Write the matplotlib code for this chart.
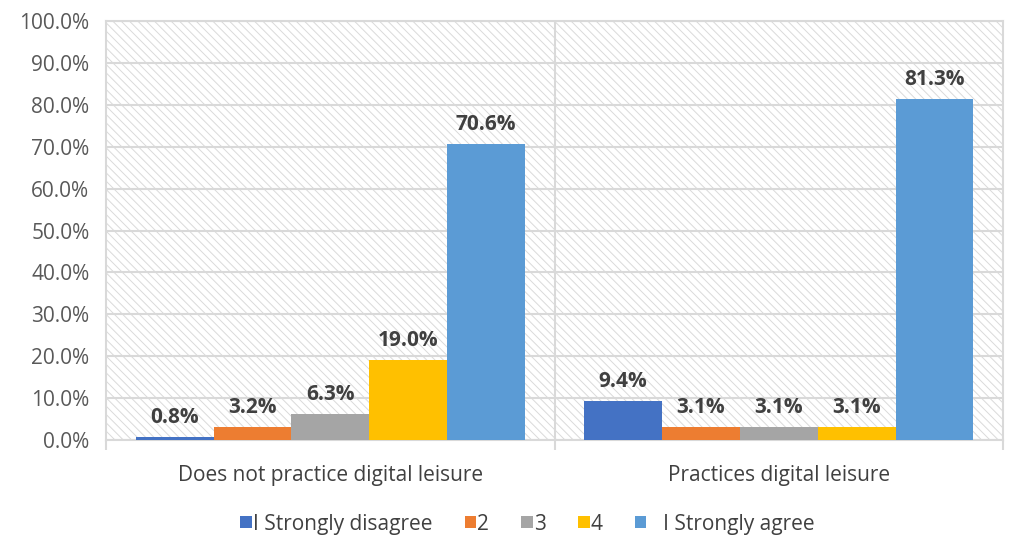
import matplotlib
matplotlib.use('Agg')
import matplotlib.pyplot as plt
import numpy as np
from matplotlib.patches import Rectangle
from matplotlib.ticker import FuncFormatter, MultipleLocator

plt.rcParams['font.family'] = ['Open Sans', 'DejaVu Sans']
plt.rcParams['hatch.linewidth'] = 0.7

# Data
categories = ['Does not practice digital leisure', 'Practices digital leisure']
series_names = ['I Strongly disagree', '2', '3', '4', '   I Strongly agree']
values = [
    [0.8, 9.4],    # I Strongly disagree
    [3.2, 3.1],    # 2
    [6.3, 3.1],    # 3
    [19.0, 3.1],   # 4
    [70.6, 81.3],  # I Strongly agree
]
colors = ['#4472C4', '#ED7D31', '#A5A5A5', '#FFC000', '#5B9BD5']

fig = plt.figure(figsize=(10.11, 5.38), dpi=100)
fig.patch.set_facecolor('white')
ax = fig.add_axes([0.105, 0.182, 0.887, 0.779])

# hatched plot area background
bg = Rectangle((0, 0), 1, 1, transform=ax.transAxes, facecolor='white',
               edgecolor='#dadada', linewidth=0, hatch='\\\\\\\\', zorder=0)
ax.add_patch(bg)
ax.patch.set_visible(False)

x = np.arange(len(categories))
w = 0.1737
n = len(series_names)
for i, (name, vals, c) in enumerate(zip(series_names, values, colors)):
    pos = x + (i - (n - 1) / 2) * w
    bars = ax.bar(pos, vals, width=w, color=c, label=name, zorder=3)
    for b, v in zip(bars, vals):
        ax.annotate(f'{v:.1f}%', (b.get_x() + b.get_width() / 2, v),
                    xytext=(0, 6.5), textcoords='offset points',
                    ha='center', va='bottom', fontsize=15,
                    fontweight='bold', color='#404040', zorder=4)

ax.set_xlim(-0.5, 1.5)
ax.set_ylim(0, 100)
ax.yaxis.set_major_locator(MultipleLocator(10))
ax.yaxis.set_major_formatter(FuncFormatter(lambda v, p: f'{v:.1f}%'))
ax.grid(axis='y', color='#d9d9d9', linewidth=1.5, zorder=1)
ax.axvline(0.5, color='#d9d9d9', linewidth=1.5, zorder=1)
for s in ax.spines.values():
    s.set_color('#d9d9d9')
    s.set_linewidth(1.5)

ax.set_xticks(x)
ax.set_xticklabels(categories, fontsize=15, color='#404040')
ax.set_xticks([-0.5, 0.5, 1.5], minor=True)
ax.tick_params(axis='x', which='major', length=0, pad=18)
ax.tick_params(axis='x', which='minor', length=7, color='#d9d9d9', width=1.5)
ax.tick_params(axis='y', length=0, labelsize=15, labelcolor='#595959', pad=12)

leg = fig.legend(loc='center', bbox_to_anchor=(0.522, 0.026), ncol=5,
                 frameon=False, fontsize=15, handlelength=0.55, handleheight=0.55,
                 handletextpad=0.05, columnspacing=1.55)
for t in leg.get_texts():
    t.set_color('#404040')

fig.savefig('out.png', dpi=100, facecolor='white')
